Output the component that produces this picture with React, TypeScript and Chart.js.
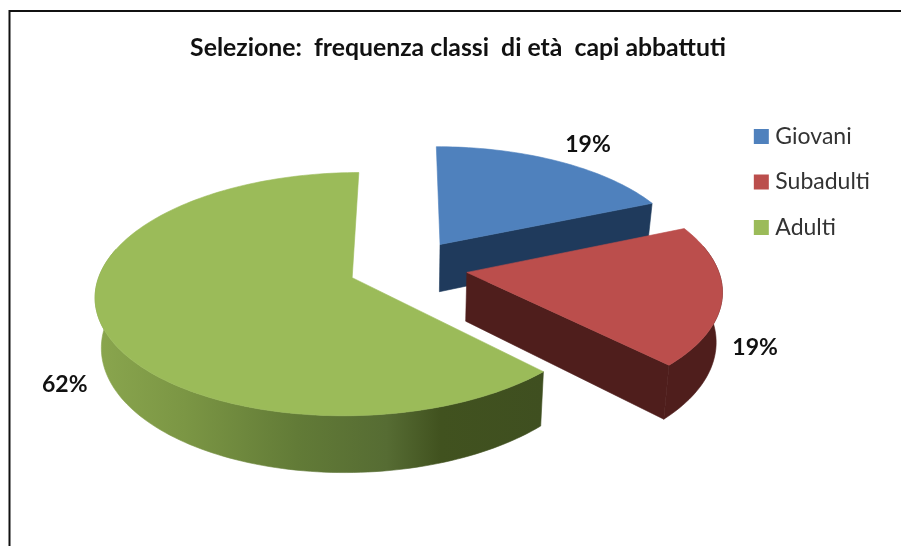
import React, { useEffect, useRef } from "react";
import { Chart, registerables } from "chart.js";

Chart.register(...registerables);

const categories = ["Giovani", "Subadulti", "Adulti"];
const shares = [18.6, 19, 62.4];
const topColors = ["#4f81bd", "#bb4e4c", "#9bbb59"];
const wallColors = ["#1f3a5c", "#4f1e1c", "#3f5021"];
const titleText = "Selezione:  frequenza classi  di età  capi abbattuti";

// Stops across the outer wall of the large slice, left to right
const adultWallStops: [number, string][] = [
  [0, "#8aa64e"],
  [0.2, "#7b9644"],
  [0.45, "#627b37"],
  [0.65, "#566c33"],
  [0.77, "#41521f"],
  [1, "#3f4f20"],
];

// View of the tilted pie
const CX = 408;
const CY = 267;
const RX = 250.5;
const RY = 116.5;
const K = 0.134;
const DEPTH = 48.5;
const TAPER = 0.02;
const EXPLODE = 0.238;
const labelRadii = [1.29, 1.15, 1.165];
const labelDrops = [0.1, 0.95, 0.98];

const project = (u: number, v: number, t = 0): [number, number] => {
  const s = 1 / (1 - K * v);
  const x = CX + RX * u * s;
  const y = CY + RY * v * s + DEPTH * s * t;
  return [CX + (x - CX) * (1 - TAPER * t), y];
};

const poly = (ctx: CanvasRenderingContext2D, pts: [number, number][], fill: any) => {
  ctx.beginPath();
  pts.forEach((p, i) => (i ? ctx.lineTo(p[0], p[1]) : ctx.moveTo(p[0], p[1])));
  ctx.closePath();
  ctx.fillStyle = fill;
  ctx.strokeStyle = fill;
  ctx.lineWidth = 0.6;
  ctx.fill();
  ctx.stroke();
};

const pie3d = {
  id: "pie3d",
  beforeDatasetsDraw(chart: any) {
    const ctx: CanvasRenderingContext2D = chart.ctx;
    const arcs = chart.getDatasetMeta(0).data;
    arcs.forEach((arc: any, i: number) => {
      const { startAngle, endAngle } = arc.getProps(["startAngle", "endAngle"], true);
      const a0 = startAngle + Math.PI / 2;
      const a1 = endAngle + Math.PI / 2;
      const mid = (a0 + a1) / 2;
      const u0 = EXPLODE * Math.sin(mid);
      const v0 = -EXPLODE * Math.cos(mid);
      const steps = Math.max(12, Math.ceil((a1 - a0) * 40));
      const rim: [number, number][] = [];
      for (let k = 0; k <= steps; k++) {
        const a = a0 + ((a1 - a0) * k) / steps;
        rim.push([u0 + Math.sin(a), v0 - Math.cos(a)]);
      }
      const first = rim[0];
      const last = rim[rim.length - 1];
      // radial walls, when they face the viewer
      if (Math.sin(a0) < -1e-3) {
        poly(ctx, [project(u0, v0), project(first[0], first[1]), project(first[0], first[1], 1), project(u0, v0, 1)], wallColors[i]);
      }
      if (Math.sin(a1) > 1e-3) {
        poly(ctx, [project(u0, v0), project(last[0], last[1]), project(last[0], last[1], 1), project(u0, v0, 1)], wallColors[i]);
      }
      // outer wall
      const front = rim.filter((_, k) => Math.cos(a0 + ((a1 - a0) * k) / steps) < 0.25);
      if (front.length > 1) {
        const wall = [
          ...front.map((p) => project(p[0], p[1])),
          ...front.slice().reverse().map((p) => project(p[0], p[1], 1)),
        ];
        let fill: any = wallColors[i];
        if (i === 2) {
          const xs = wall.map((p) => p[0]);
          const g = ctx.createLinearGradient(Math.min(...xs), 0, Math.max(...xs), 0);
          adultWallStops.forEach(([o, c]) => g.addColorStop(o, c));
          fill = g;
        }
        poly(ctx, wall, fill);
      }
      // top face
      poly(ctx, [project(u0, v0), ...rim.map((p) => project(p[0], p[1]))], topColors[i]);
    });
    // value labels
    const total = shares.reduce((a, b) => a + b, 0);
    ctx.font = "bold 23px Lato";
    ctx.fillStyle = "#111111";
    ctx.textAlign = "center";
    ctx.textBaseline = "middle";
    arcs.forEach((arc: any, i: number) => {
      const { startAngle, endAngle } = arc.getProps(["startAngle", "endAngle"], true);
      const mid = (startAngle + endAngle) / 2 + Math.PI / 2;
      const r = EXPLODE + labelRadii[i];
      const [x, y] = project(r * Math.sin(mid), -r * Math.cos(mid), labelDrops[i]);
      ctx.fillText(`${Math.round((shares[i] / total) * 100)}%`, x, y);
    });
    return false;
  },
};

const frame = {
  id: "frame",
  beforeDraw(chart: any) {
    const ctx: CanvasRenderingContext2D = chart.ctx;
    ctx.save();
    ctx.fillStyle = "#ffffff";
    ctx.fillRect(0, 0, chart.width, chart.height);
    ctx.strokeStyle = "#111111";
    ctx.lineWidth = 2;
    ctx.beginPath();
    ctx.moveTo(9.5, chart.height);
    ctx.lineTo(9.5, 11);
    ctx.lineTo(chart.width, 11);
    ctx.stroke();
    ctx.restore();
  },
};

export default function App() {
  const ref = useRef<HTMLCanvasElement | null>(null);
  useEffect(() => {
    document.body.style.margin = "0";
    const chart = new Chart(ref.current as HTMLCanvasElement, {
      type: "pie",
      data: {
        labels: categories,
        datasets: [{ data: shares, backgroundColor: topColors, borderWidth: 0 }],
      },
      options: {
        responsive: false,
        animation: false,
        layout: { padding: { left: 36, right: 21, top: 33, bottom: 215 } },
        plugins: {
          tooltip: { enabled: false },
          title: {
            display: true,
            text: titleText,
            color: "#111111",
            font: { family: "Lato", size: 24.8, weight: "bold" },
            padding: { top: 0, bottom: 20 },
          },
          legend: {
            position: "right",
            align: "center",
            labels: {
              usePointStyle: true,
              pointStyle: "rect",
              boxWidth: 5,
              boxHeight: 15,
              padding: 22.5,
              color: "#333333",
              font: { family: "Lato", size: 23 },
            },
          },
        },
      },
      plugins: [frame, pie3d],
    } as any);
    return () => chart.destroy();
  }, []);
  return (
    <canvas
      ref={ref}
      width={901}
      height={546}
      style={{ display: "block", width: 901, height: 546, filter: "blur(0.4px)" }}
    />
  );
}
